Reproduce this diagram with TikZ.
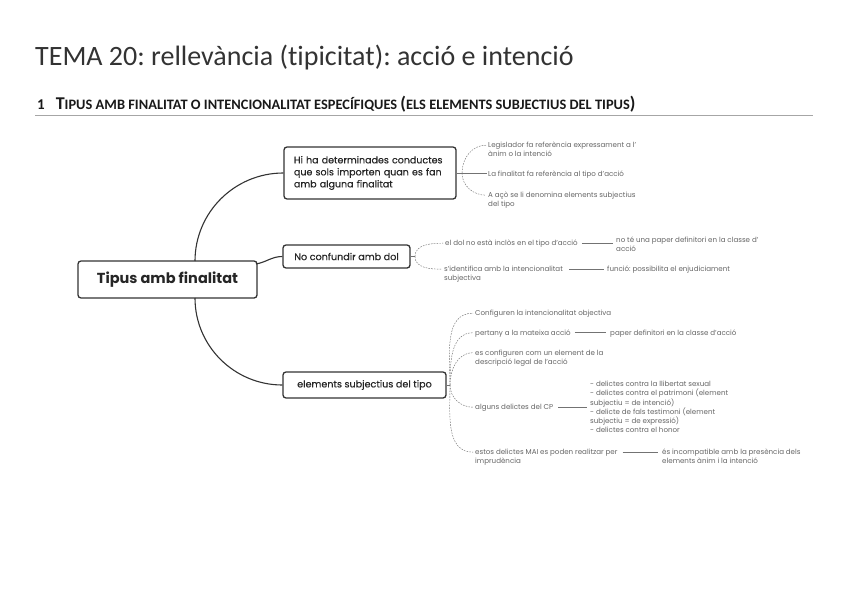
\documentclass[tikz,border=0pt]{standalone}
\usepackage{fontspec}
\setmainfont{Poppins}
\newfontfamily\titlefont[Ligatures=NoCommon]{Carlito}
\newfontfamily\boxfont[FakeBold=0.4]{Poppins}
\usetikzlibrary{calc}
\newcommand\leaflines[1]{\begin{tabular}[t]{@{}l@{}}#1\end{tabular}}
\frenchspacing
\begin{document}
\begin{tikzpicture}[x=1pt,y=-1pt,
  mainbox/.style={draw=black!80, line width=1.3pt, rounded corners=3pt, fill=white, inner sep=0pt, text=black!85},
  leaf/.style={font=\fontsize{7.1}{9}\selectfont, text=black!60, inner sep=1pt, anchor=base west},
  trunk/.style={draw=black!80, line width=1.1pt},
  twig/.style={draw=black!55, line width=0.45pt},
  dtwig/.style={twig, dash pattern=on 1.6pt off 1.2pt}]
\useasboundingbox (0,0) rectangle (848,599);
\fill[white] (0,0) rectangle (848,599);

% headings
\node[anchor=base west, inner sep=0pt, font=\titlefont\fontsize{28}{32}\selectfont, text=black!80] (title) at (35,66) {TEMA 20: rellevància (tipicitat): acció e intenció};
\node[anchor=base west, inner sep=0pt, font=\titlefont\bfseries, text=black!90] (head) at (37,109.5) {{\fontsize{15}{16}\selectfont 1}\hspace{11pt}{\fontsize{18}{18}\selectfont T}{\fontsize{14.4}{18}\selectfont IPUS AMB FINALITAT O INTENCIONALITAT ESPECÍFIQUES {\fontsize{18}{18}\selectfont(}ELS ELEMENTS SUBJECTIUS DEL TIPUS{\fontsize{18}{18}\selectfont)}}};
\draw[black!35, line width=0.8pt] (35,115.5) -- (813,115.5);

% main nodes
\node[mainbox, minimum width=179pt, minimum height=37pt, font=\fontsize{14.5}{17}\selectfont\bfseries] (root) at (167.5,279.5) {Tipus amb finalitat};
\node[mainbox, minimum width=172pt, minimum height=52pt, text width=152pt, align=left, font=\boxfont\fontsize{9.5}{12}\selectfont] (hi) at (370,173) {Hi ha determinades conductes\\ que sols importen quan es fan\\ amb alguna finalitat};
\node[mainbox, minimum width=127pt, minimum height=23pt, font=\boxfont\fontsize{9.6}{12}\selectfont] (nc) at (346.5,256.5) {No confundir amb dol};
\node[mainbox, minimum width=163pt, minimum height=26pt, font=\boxfont\fontsize{9.6}{12}\selectfont] (es) at (364.5,385) {elements subjectius del tipo};

% trunk connectors
\coordinate (rtop) at (195,261);
\coordinate (rne) at (256,264);
\coordinate (rbot) at (195,298);
\draw[trunk] (rtop) to[out=90,in=180] (hi.west);
\draw[trunk] (rne) to[out=10,in=180] (nc.west);
\draw[trunk] (rbot) to[out=-90,in=180] (es.west);

% leaves: first branch
\node[leaf] (L1) at (487,147.5) {\leaflines{Legislador fa referència expressament a l'\\ ànim o la intenció}};
\node[leaf] (L2) at (487,176) {\leaflines{La finalitat fa referència al tipo d'acció}};
\node[leaf] (L3) at (487,197.5) {\leaflines{A açò se li denomina elements subjectius\\ del tipo}};
% second branch
\node[leaf] (N1) at (444,245.5) {\leaflines{el dol no està inclòs en el tipo d'acció}};
\node[leaf] (N1b) at (615,242.5) {\leaflines{no té una paper definitori en la classe d'\\ acció}};
\node[leaf] (N2) at (443,271.5) {\leaflines{s'identifica amb la intencionalitat\\ subjectiva}};
\node[leaf] (N2b) at (606,271.5) {\leaflines{funció: possibilita el enjudiciament}};
% third branch
\node[leaf] (E1) at (474,315.5) {\leaflines{Configuren la intencionalitat objectiva}};
\node[leaf] (E2) at (474,335) {\leaflines{pertany a la mateixa acció}};
\node[leaf] (E2b) at (609,335) {\leaflines{paper definitori en la classe d'acció}};
\node[leaf] (E3) at (474,355) {\leaflines{es configuren com un element de la\\ descripció legal de l'acció}};
\node[leaf] (E4) at (474,409.5) {\leaflines{alguns delictes del CP}};
\node[leaf, font=\fontsize{7.1}{8.9}\selectfont] (E4b) at (589,386.5) {\leaflines{- delictes contra la llibertat sexual\\ - delictes contra el patrimoni (element\\ subjectiu = de intenció)\\ - delicte de fals testimoni (element\\ subjectiu = de expressió)\\ - delictes contra el honor}};
\node[leaf] (E5) at (474,454.5) {\leaflines{estos delictes MAI es poden realitzar per\\ imprudència}};
\node[leaf] (E5b) at (661,454.5) {\leaflines{és incompatible amb la presència dels\\ elements ànim i la intenció}};

% first-line anchors
\foreach \n in {L1,L3,N1,N2,E1,E2,E3,E4,E5}{\coordinate (\n f) at ($(\n.base west)+(-1,-2.3)$);}
\coordinate (N1e) at ($(N1.base east)+(0,-2.3)$);
\coordinate (N2e) at ($(N2.base east)+(0,-2.3)$);
\coordinate (E2e) at ($(E2.base east)+(0,-2.3)$);
\coordinate (E4e) at ($(E4.base east)+(0,-2.3)$);
\coordinate (E5e) at ($(E5.base east)+(0,-2.3)$);

% branch points
\coordinate (hB) at (462,173);
\coordinate (nB) at (415,256.5);
\coordinate (eB) at (450,385);

\draw[twig] (hi.east) -- (hi.east -| L2.west);
\draw[dtwig] (hB) to[out=90,in=180] (L1f);
\draw[dtwig] (hB) to[out=-90,in=180] (L3f);

\draw[twig] (nc.east) -- (nB);
\draw[dtwig] (nB) to[out=90,in=180] (N1f);
\draw[dtwig] (nB) to[out=-90,in=180] (N2f);

\draw[twig] (es.east) -- (eB);
\draw[dtwig] (eB) to[out=90,in=180] (E1f);
\draw[dtwig] (eB) to[out=90,in=180] (E2f);
\draw[dtwig] (eB) to[out=90,in=180] (E3f);
\draw[dtwig] (eB) to[out=-90,in=180] (E4f);
\draw[dtwig] (eB) to[out=-90,in=180] (E5f);

% leaf-to-leaf lines
\draw[twig, shorten <=3pt, shorten >=2pt] (N1e) -- (N1e -| N1b.west);
\draw[twig, shorten <=5pt, shorten >=2pt] (N2e) -- (N2e -| N2b.west);
\draw[twig, shorten <=3pt, shorten >=3pt] (E2e) -- (E2e -| E2b.west);
\draw[twig, shorten <=4pt, shorten >=2pt] (E4e) -- (E4e -| E4b.west);
\draw[twig, shorten <=4pt, shorten >=3pt] (E5e) -- (E5e -| E5b.west);
\end{tikzpicture}
\end{document}
